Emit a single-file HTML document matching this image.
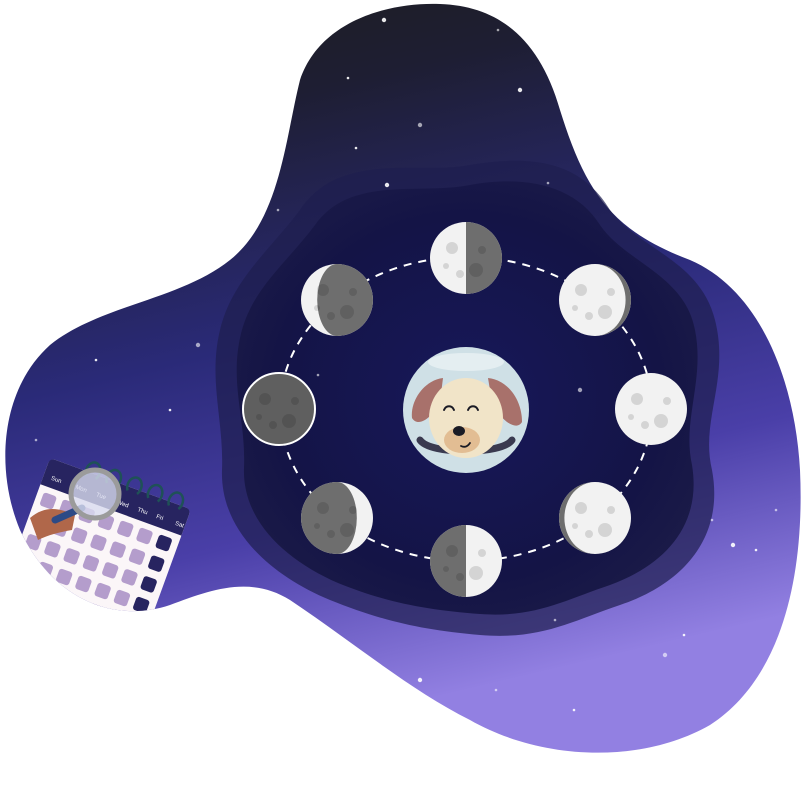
<!DOCTYPE html>
<html><head><meta charset="utf-8"><style>
html,body{margin:0;padding:0;background:#fff;width:801px;height:801px;overflow:hidden}
svg{display:block}
text{font-family:"Liberation Sans",sans-serif}
</style></head><body>
<svg id="art" width="801" height="801" viewBox="0 0 801 801" xmlns="http://www.w3.org/2000/svg">
<defs>
<linearGradient id="sky" x1="0" y1="0" x2="0.25" y2="1">
<stop offset="0" stop-color="#1d1d1d"/>
<stop offset="0.2" stop-color="#1e1e33"/>
<stop offset="0.5" stop-color="#2a2a78"/>
<stop offset="0.75" stop-color="#4a3fa8"/>
<stop offset="1" stop-color="#9280e2"/>
</linearGradient>
<radialGradient id="inner" cx="0.5" cy="0.5" r="0.6">
<stop offset="0" stop-color="#17185a"/>
<stop offset="0.7" stop-color="#141446"/>
<stop offset="1" stop-color="#1c1c48"/>
</radialGradient>
<clipPath id="blobclip"><path id="blobpath" d="M300,80 C320,20 390,2 440,4 C500,6 540,40 560,110 C585,190 610,230 690,260 C760,290 795,380 800,470 C805,580 780,680 710,725 C640,765 540,760 470,720 C410,690 350,640 290,600 C250,575 210,590 170,605 C110,625 50,595 20,530 C-5,470 0,390 50,345 C100,305 180,300 230,260 C280,220 285,140 300,80 Z"/></clipPath>
</defs>
<use href="#blobpath" fill="url(#sky)"/>
<path fill="#1e1e4e" opacity="0.7" d="M300,210 C340,150 420,175 470,165 C530,155 580,160 610,210 C640,250 700,260 715,320 C730,380 700,420 712,470 C725,540 680,585 620,605 C570,622 540,640 480,635 C420,630 380,620 330,600 C270,575 220,530 222,470 C224,420 208,380 220,330 C232,280 270,250 300,210 Z"/>
<path fill="url(#inner)" d="M315,225 C350,175 420,195 470,185 C525,175 575,185 600,225 C625,262 685,275 695,330 C705,380 682,420 692,465 C702,525 665,565 610,585 C565,600 535,618 480,614 C425,610 385,602 338,583 C285,560 242,520 244,468 C246,420 230,385 240,338 C250,290 285,265 315,225 Z"/>
<g id="stars" clip-path="url(#blobclip)"></g>
<ellipse cx="466" cy="409" rx="186" ry="152" fill="none" stroke="#ffffff" stroke-width="2" stroke-dasharray="8 7"/>
<g id="moons"></g>
<g>
<circle cx="466" cy="410" r="63" fill="#cfe0e6"/>
<ellipse cx="466" cy="362" rx="38" ry="9" fill="#e4eef1"/>
<path d="M420,440 C430,455 502,455 512,440" fill="none" stroke="#3a3a50" stroke-width="7" stroke-linecap="round"/>
<path d="M443,378 C425,380 410,400 412,418 C418,428 432,418 440,402 Z" fill="#a8716b"/>
<path d="M488,378 C508,380 522,400 522,422 C516,432 500,420 492,402 Z" fill="#a8716b"/>
<ellipse cx="466" cy="418" rx="37" ry="40" fill="#f1e4c8"/>
<ellipse cx="462" cy="440" rx="18" ry="13" fill="#e2bd93"/>
<ellipse cx="459" cy="431" rx="6" ry="5" fill="#1a1a24"/>
<path d="M461,446 C465,448 468,446 470,443" fill="none" stroke="#1a1a24" stroke-width="1.8" stroke-linecap="round"/>
<path d="M444,410 C446,405 452,405 454,410 M468,410 C470,405 476,405 478,410" fill="none" stroke="#1a1a24" stroke-width="2" stroke-linecap="round"/>
</g>
<g clip-path="url(#blobclip)">
<g transform="translate(50,458) rotate(20)" id="cal">
<rect x="0" y="0" width="150" height="150" rx="6" fill="#fbf6f8"/>
<path d="M0,6 Q0,0 6,0 L144,0 Q150,0 150,6 L150,28 L0,28 Z" fill="#272460"/>
<text x="8" y="20" font-size="6" fill="#fff">Sun</text>
<text x="34" y="20" font-size="6" fill="#fff">Mon</text>
<text x="56" y="20" font-size="6" fill="#fff">Tue</text>
<text x="78" y="20" font-size="6" fill="#fff">Wed</text>
<text x="100" y="20" font-size="6" fill="#fff">Thu</text>
<text x="120" y="20" font-size="6" fill="#fff">Fri</text>
<text x="140" y="20" font-size="6" fill="#fff">Sat</text>
</g>
</g>
<g>
<path d="M30,518 C45,505 60,508 75,515 L72,530 C60,532 48,535 38,540 Z" fill="#b0674a"/>
<path d="M55,520 L82,508" stroke="#2d4a86" stroke-width="7" stroke-linecap="round"/>
<circle cx="95" cy="494" r="24" fill="#d9dcef" fill-opacity="0.8" stroke="#9b9b9b" stroke-width="5"/>
</g>
</svg>
<script>
var moonCx=[466,595,651,595,466,337,279,337];
var moonCy=[258,300,409,518,561,518,409,300];
var moonPhase=["firstq","wgib","full","wngib","lastq","wcres","new","wxcres"];
var starX=[384,498,348,420,356,278,387,548,96,198,170,36,520,555,684,665,756,776,733,712,574,580,607,496,420,318,54];
var starY=[20,30,78,125,148,210,185,183,360,345,410,440,90,620,635,655,550,510,545,520,710,390,500,690,680,375,590];
var g=document.getElementById('moons');
var NS='http://www.w3.org/2000/svg';
function mk(t,a,p){var e=document.createElementNS(NS,t);for(var k in a)e.setAttribute(k,a[k]);(p||g).appendChild(e);return e;}
for(var i=0;i<moonCx.length;i++){
 var cx=moonCx[i],cy=moonCy[i],r=36,ph=moonPhase[i];
 var mg=mk('g',{});
 
 
 var light='#f2f2f2',dark='#6e6e6e';
 if(ph=='new'){mk('circle',{cx:cx,cy:cy,r:r,fill:'#5f5f5f',stroke:'#fff','stroke-width':2},mg);}
 else{
  mk('circle',{cx:cx,cy:cy,r:r,fill:light},mg);
  var d='';
  if(ph=='firstq') d='M'+cx+','+(cy-r)+' A'+r+','+r+' 0 0 1 '+cx+','+(cy+r)+' Z';
  if(ph=='lastq') d='M'+cx+','+(cy-r)+' A'+r+','+r+' 0 0 0 '+cx+','+(cy+r)+' Z';
  if(ph=='wgib') d='M'+cx+','+(cy-r)+' A'+r+','+r+' 0 0 1 '+cx+','+(cy+r)+' A'+(r*0.85)+','+r+' 0 0 0 '+cx+','+(cy-r)+' Z';
  if(ph=='wngib') d='M'+cx+','+(cy-r)+' A'+r+','+r+' 0 0 0 '+cx+','+(cy+r)+' A'+(r*0.85)+','+r+' 0 0 1 '+cx+','+(cy-r)+' Z';
  if(ph=='wxcres') d='M'+cx+','+(cy-r)+' A'+r+','+r+' 0 0 1 '+cx+','+(cy+r)+' A'+(r*0.55)+','+r+' 0 0 1 '+cx+','+(cy-r)+' Z';
  if(ph=='wcres') d='M'+cx+','+(cy-r)+' A'+r+','+r+' 0 0 0 '+cx+','+(cy+r)+' A'+(r*0.55)+','+r+' 0 0 0 '+cx+','+(cy-r)+' Z';
  if(d) mk('path',{d:d,fill:dark},mg);
 }
 var cr=[[-14,-10,6],[10,12,7],[-6,16,4],[16,-8,4],[-20,8,3]];
 for(var j=0;j<cr.length;j++) mk('circle',{cx:cx+cr[j][0],cy:cy+cr[j][1],r:cr[j][2],fill:'#000',opacity:0.12},mg);
}
var sg=document.getElementById('stars');
for(var s=0;s<starX.length;s++){
 var c=mk('circle',{cx:starX[s],cy:starY[s],r:(s%3==0?2.2:1.3),fill:'#fff',opacity:(s%2?0.6:0.9)},sg);
 
 
}
var cal=document.getElementById('cal');
for(var rr=0;rr<5;rr++)for(var cc=0;cc<7;cc++){
 var q=mk('rect',{x:6+cc*20.5,y:34+rr*22,width:14,height:14,rx:3,fill:(cc==6?'#272460':'#b49dcc')},cal);
 
 
}
for(var k=0;k<5;k++){
 var rg=mk('path',{d:'M'+(40+k*22)+',4 a7,9 0 1 1 10,0',fill:'none',stroke:'#1f5157','stroke-width':2.5},cal);
 
 
}
</script>
</body></html>
